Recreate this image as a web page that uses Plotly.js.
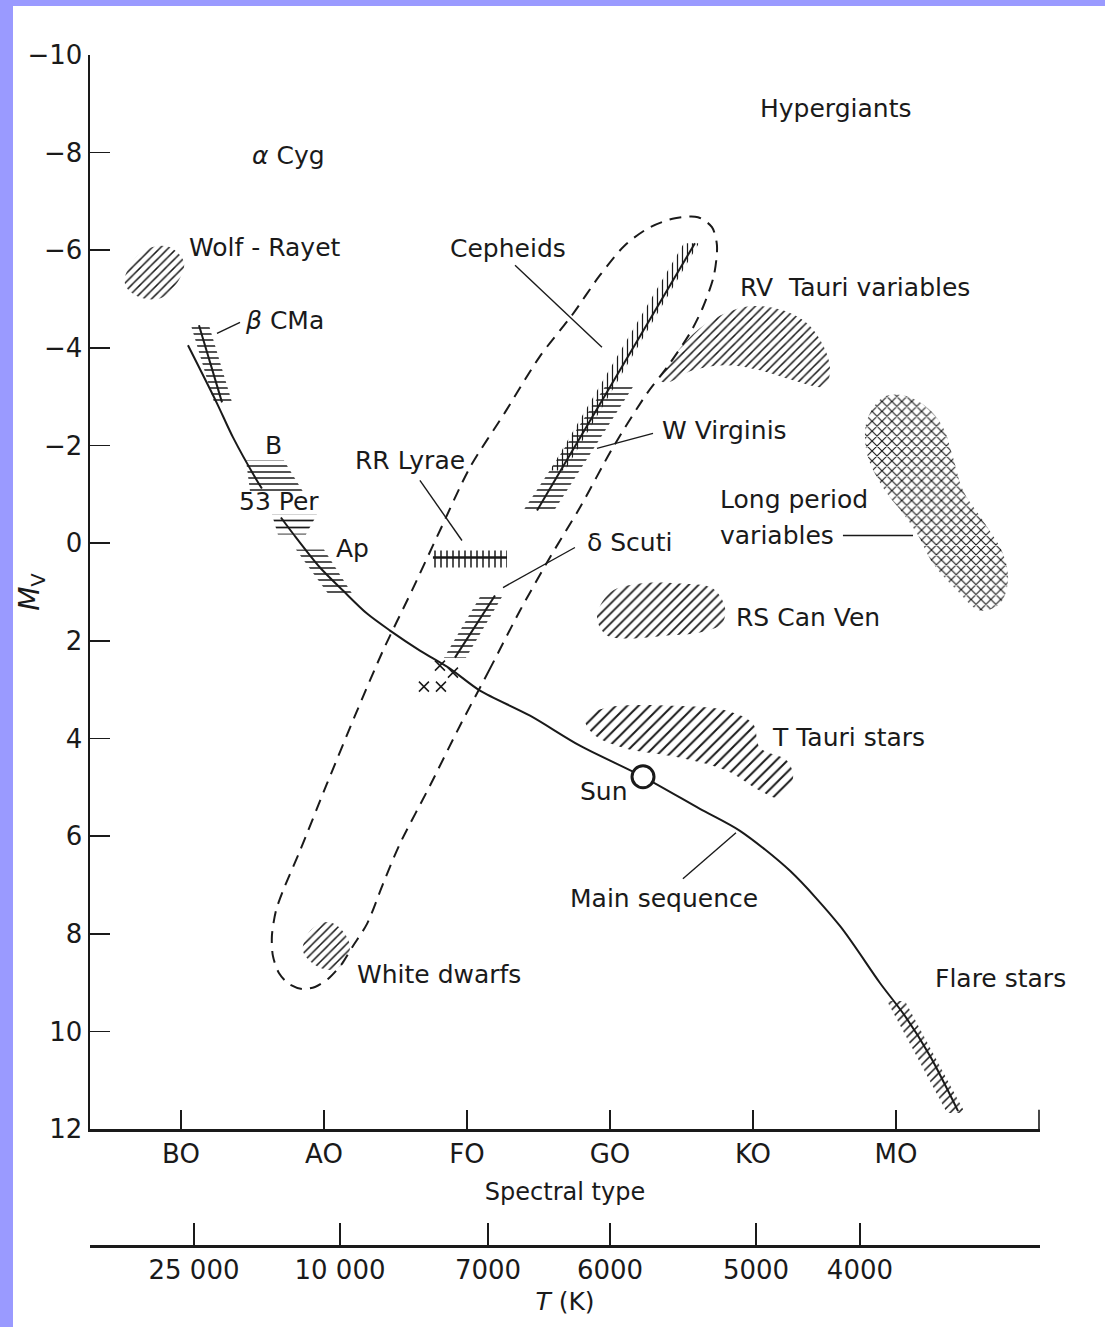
<!DOCTYPE html>
<html><head><meta charset="utf-8">
<script src="https://cdn.plot.ly/plotly-3.0.1.min.js"></script>
<style>
html,body{margin:0;padding:0;background:#9a9aff;width:1105px;height:1327px;overflow:hidden}
#chart{position:absolute;left:13px;top:6px;width:1092px;height:1321px;background:#fff}
</style></head><body><div id="chart"></div><script>
const INK = '#1a1a1a';

// ---- axes ----
const spectralTickPos = [0, 1, 2, 3, 4, 5];
const spectralTickText = ['BO', 'AO', 'FO', 'GO', 'KO', 'MO'];
const spectralAxisEnd = 6.0;
const tempTickPos = [0.091, 1.112, 2.147, 3.0, 4.021, 4.748];
const tempTickText = ['25 000', '10 000', '7000', '6000', '5000', '4000'];
const mvTickVals = [-10, -8, -6, -4, -2, 0, 2, 4, 6, 8, 10, 12];
const mvTickText = ['−10', '−8', '−6', '−4', '−2', '0', '2', '4', '6', '8', '10', '12'];

// ---- main sequence (spectral index, Mv) ----
const msX = [0.049, 0.252, 0.364, 0.531, 0.566, null, 0.699, 0.783, 0.972, 1.133, 1.301, 1.462, 1.671, 1.881, 2.091, 2.441, 2.790, 3.231, 3.629, 3.909, 4.259, 4.608, 4.888, 5.063, 5.238, 5.434];
const msY = [-4.054, -2.865, -2.167, -1.286, -1.122, null, -0.527, -0.199, 0.498, 0.970, 1.442, 1.790, 2.200, 2.569, 3.020, 3.533, 4.148, 4.784, 5.440, 5.891, 6.711, 7.839, 9.008, 9.684, 10.505, 11.632];

// ---- instability strip outline (dashed loop) ----
const stripX = [2.371, 2.161, 1.951, 1.741, 1.531, 1.413, 1.301, 1.203, 1.119, 1.028, 0.937, 0.846, 0.755, 0.685, 0.643, 0.636, 0.664, 0.713, 0.832, 1.021, 1.217, 1.413, 1.615, 1.811, 2.021, 2.266, 2.510, 2.734, 2.930, 3.105, 3.280, 3.455, 3.615, 3.713, 3.748, 3.727, 3.650, 3.559, 3.399, 3.259, 3.021, 2.790, 2.580, 2.371];
const stripY = [1.380, 2.569, 3.738, 4.968, 6.158, 6.978, 7.798, 8.249, 8.639, 8.926, 9.090, 9.131, 9.028, 8.803, 8.454, 8.044, 7.531, 7.121, 6.301, 4.927, 3.533, 2.200, 0.970, -0.260, -1.552, -2.680, -3.828, -4.669, -5.489, -6.104, -6.473, -6.658, -6.678, -6.473, -6.104, -5.489, -4.833, -4.300, -3.603, -3.070, -1.962, -0.732, 0.293, 1.380];

// ---- line segments of variable classes ----
const cephLineX = [2.490, 3.594], cephLineY = [-0.670, -6.145];
const bcmaLineX = [0.126, 0.287], bcmaLineY = [-4.464, -2.885];
const dsctLineX = [1.916, 2.196], dsctLineY = [2.344, 1.072];
const rrLineX = [1.762, 2.280], rrLineY = [0.293, 0.293];

// ---- hatched bands ----
const cephBandX = [2.580, 2.685, 3.622, 3.517], cephBandY = [-1.491, -1.491, -6.145, -6.145];
const wvirBandX = [2.385, 2.601, 3.168, 2.972], wvirBandY = [-0.629, -0.629, -3.233, -3.233];
const bcmaBandX = [0.070, 0.196, 0.357, 0.231], bcmaBandY = [-4.464, -4.464, -2.885, -2.885];
const bBandX = [0.455, 0.720, 0.853, 0.483], bBandY = [-1.696, -1.696, -1.060, -1.060];
const per53BandX = [0.636, 0.951, 0.874, 0.678], per53BandY = [-0.588, -0.588, -0.178, -0.178];
const apBandX = [0.804, 1.000, 1.196, 1.028], apBandY = [0.129, 0.129, 1.031, 1.031];
const rrBandX = [1.762, 2.280, 2.280, 1.762], rrBandY = [0.150, 0.150, 0.498, 0.498];
const dsctBandX = [1.839, 1.993, 2.259, 2.105], dsctBandY = [2.344, 2.344, 1.031, 1.031];
const flareBandX = [4.937, 5.063, 5.483, 5.357], flareBandY = [9.377, 9.377, 11.673, 11.673];

// ---- hatched regions ----
const wrX = [-0.392, -0.287, -0.168, -0.063, 0.021, -0.007, -0.126, -0.266, -0.378];
const wrY = [-5.448, -5.940, -6.084, -6.043, -5.756, -5.428, -5.038, -5.017, -5.223];
const rvX = [3.350, 3.559, 3.748, 3.979, 4.210, 4.378, 4.490, 4.538, 4.503, 4.280, 4.049, 3.818, 3.580, 3.406];
const rvY = [-3.336, -4.218, -4.628, -4.853, -4.771, -4.505, -4.054, -3.582, -3.213, -3.336, -3.541, -3.644, -3.541, -3.295];
const lpvX = [4.909, 4.797, 4.797, 4.909, 5.049, 5.147, 5.259, 5.427, 5.587, 5.727, 5.783, 5.748, 5.608, 5.469, 5.399, 5.329, 5.217, 5.049];
const lpvY = [-2.987, -2.516, -1.839, -1.142, -0.609, -0.199, 0.416, 0.970, 1.380, 1.236, 0.765, 0.211, -0.465, -1.081, -1.757, -2.372, -2.782, -3.028];
const rscvnX = [2.909, 3.000, 3.210, 3.490, 3.720, 3.804, 3.783, 3.629, 3.399, 3.119, 2.979];
const rscvnY = [1.524, 1.011, 0.826, 0.826, 0.929, 1.318, 1.647, 1.831, 1.893, 1.954, 1.893];
const ttauX = [2.825, 2.979, 3.441, 3.818, 4.000, 4.049, 4.238, 4.280, 4.189, 4.049, 3.818, 3.490, 3.091, 2.881];
const ttauY = [3.574, 3.369, 3.328, 3.430, 3.697, 4.189, 4.456, 4.804, 5.215, 5.071, 4.661, 4.394, 4.189, 3.902];
const wdX = [0.853, 0.902, 1.021, 1.112, 1.182, 1.133, 1.042, 0.937];
const wdY = [8.352, 7.942, 7.757, 7.880, 8.249, 8.618, 8.741, 8.639];

// ---- leader lines ----
const leaderX = [0.252, 0.413, null, 2.336, 2.944, null, 1.671, 1.965, null, 2.909, 3.301, null, 2.252, 2.755, null, 4.629, 5.119, null, 3.510, 3.881];
const leaderY = [-4.300, -4.525, null, -5.694, -4.013, null, -1.286, -0.055, null, -1.942, -2.249, null, 0.908, 0.088, null, -0.158, -0.158, null, 6.875, 5.932];

// ---- points ----
const sunX = [3.231], sunY = [4.784];
const crossX = [1.811, 1.902, 1.699, 1.818];
const crossY = [2.508, 2.651, 2.938, 2.938];

// ---- labels ----
const labelText = ['Hypergiants', '<i>α</i> Cyg', 'Wolf - Rayet', '<i>β</i> CMa', 'Cepheids', 'RV  Tauri variables', 'B', 'RR Lyrae', 'W Virginis', '53 Per', 'Long period', 'variables', 'Ap', 'δ Scuti', 'RS Can Ven', 'T Tauri stars', 'Sun', 'Main sequence', 'White dwarfs', 'Flare stars'];
const labelX = [4.035, 0.483, 0.042, 0.434, 1.867, 3.895, 0.573, 1.203, 3.350, 0.392, 3.755, 3.755, 1.070, 2.825, 3.867, 4.119, 2.776, 2.706, 1.217, 5.259];
const labelY = [-8.913, -7.950, -6.063, -4.566, -6.043, -5.243, -2.003, -1.696, -2.311, -0.855, -0.896, -0.158, 0.109, -0.014, 1.524, 3.984, 5.091, 7.285, 8.844, 8.926];

function hatch(x, y, shape, size, smooth, solidity) {
  return {
    x: x.concat([x[0]]), y: y.concat([y[0]]), mode: 'lines', fill: 'toself',
    line: {width: 0, color: 'rgba(0,0,0,0)', shape: smooth ? 'spline' : 'linear'},
    fillcolor: 'rgba(0,0,0,0)',
    fillpattern: {shape: shape, size: size, solidity: solidity || 0.25, fgcolor: INK, bgcolor: 'rgba(0,0,0,0)', fillmode: 'replace'},
    hoverinfo: 'skip', showlegend: false
  };
}
function line(x, y, w, extra) {
  return Object.assign({x: x, y: y, mode: 'lines', line: {color: INK, width: w}, hoverinfo: 'skip', showlegend: false}, extra || {});
}

const traces = [
  hatch(wrX, wrY, '/', 6, true),
  hatch(rvX, rvY, '/', 6, true),
  hatch(lpvX, lpvY, 'x', 7, true, 0.3),
  hatch(rscvnX, rscvnY, '/', 7, true),
  hatch(ttauX, ttauY, '/', 8, true),
  hatch(wdX, wdY, '/', 6, true),
  hatch(cephBandX, cephBandY, '|', 5, false),
  hatch(wvirBandX, wvirBandY, '-', 6, false),
  hatch(bcmaBandX, bcmaBandY, '-', 6, false),
  hatch(bBandX, bBandY, '-', 6, false),
  hatch(per53BandX, per53BandY, '-', 7, false),
  hatch(apBandX, apBandY, '-', 6, false),
  hatch(rrBandX, rrBandY, '|', 6, false),
  hatch(dsctBandX, dsctBandY, '-', 6, false),
  hatch(flareBandX, flareBandY, '/', 6, false),
  line(stripX, stripY, 2, {line: {color: INK, width: 2, dash: '12px,8px', shape: 'spline', smoothing: 0.8}}),
  line(msX, msY, 2, {line: {color: INK, width: 2, shape: 'spline', smoothing: 0.8}, connectgaps: false}),
  line(cephLineX, cephLineY, 2),
  line(bcmaLineX, bcmaLineY, 2),
  line(dsctLineX, dsctLineY, 2),
  line(rrLineX, rrLineY, 2.5),
  line(leaderX, leaderY, 1.4, {connectgaps: false}),
  {x: crossX, y: crossY, mode: 'markers', marker: {symbol: 'x-thin-open', size: 10, color: INK, line: {color: INK, width: 1.5}}, hoverinfo: 'skip', showlegend: false},
  {x: sunX, y: sunY, mode: 'markers', marker: {symbol: 'circle', size: 22, color: '#ffffff', line: {color: INK, width: 3}}, hoverinfo: 'skip', showlegend: false},
  {x: tempTickPos, y: tempTickPos.map(() => 12), xaxis: 'x2', yaxis: 'y', mode: 'lines', line: {width: 0, color: 'rgba(0,0,0,0)'}, hoverinfo: 'skip', showlegend: false}
];

const annotations = labelText.map((t, i) => ({
  x: labelX[i], y: labelY[i], xref: 'x', yref: 'y', text: t, showarrow: false,
  xanchor: 'left', yanchor: 'middle', font: {size: 25, color: INK}
}));

const axisCommon = {showgrid: false, zeroline: false, showline: true, linecolor: INK, linewidth: 2.5, ticks: 'inside', tickwidth: 1.6, tickcolor: INK, tickmode: 'array', fixedrange: true};

const layout = {
  width: 1092, height: 1321,
  margin: {l: 77, r: 65, t: 49, b: 81, pad: 0},
  paper_bgcolor: '#ffffff', plot_bgcolor: '#ffffff', showlegend: false,
  font: {family: 'DejaVu Sans, sans-serif', size: 25, color: INK},
  xaxis: Object.assign({}, axisCommon, {range: [-0.636, 6.007], anchor: 'y', ticklen: 19, tickvals: spectralTickPos, ticktext: spectralTickText, tickfont: {size: 26}, title: {text: 'Spectral type', font: {size: 24}, standoff: 16}}),
  xaxis2: Object.assign({}, axisCommon, {range: [-0.636, 6.007], overlaying: 'x', anchor: 'free', position: 0, side: 'bottom', ticklen: 22, tickvals: tempTickPos, ticktext: tempTickText, tickfont: {size: 26}, title: {text: '<i>T</i> (K)', font: {size: 25}, standoff: 8}}),
  yaxis: Object.assign({}, axisCommon, {range: [12, -10], domain: [0.0982, 1], anchor: 'x', ticklen: 20, tickvals: mvTickVals, ticktext: mvTickText, tickfont: {size: 26}, title: {text: '<i>M</i><sub>V</sub>', font: {size: 28}, standoff: 4}}),
  shapes: [{type: 'line', xref: 'x', yref: 'y domain', x0: spectralAxisEnd, x1: spectralAxisEnd, y0: 0, y1: 0.018, line: {color: INK, width: 1.6}}],
  annotations: annotations
};

Plotly.newPlot('chart', traces, layout, {staticPlot: true, displayModeBar: false});
</script></body></html>
